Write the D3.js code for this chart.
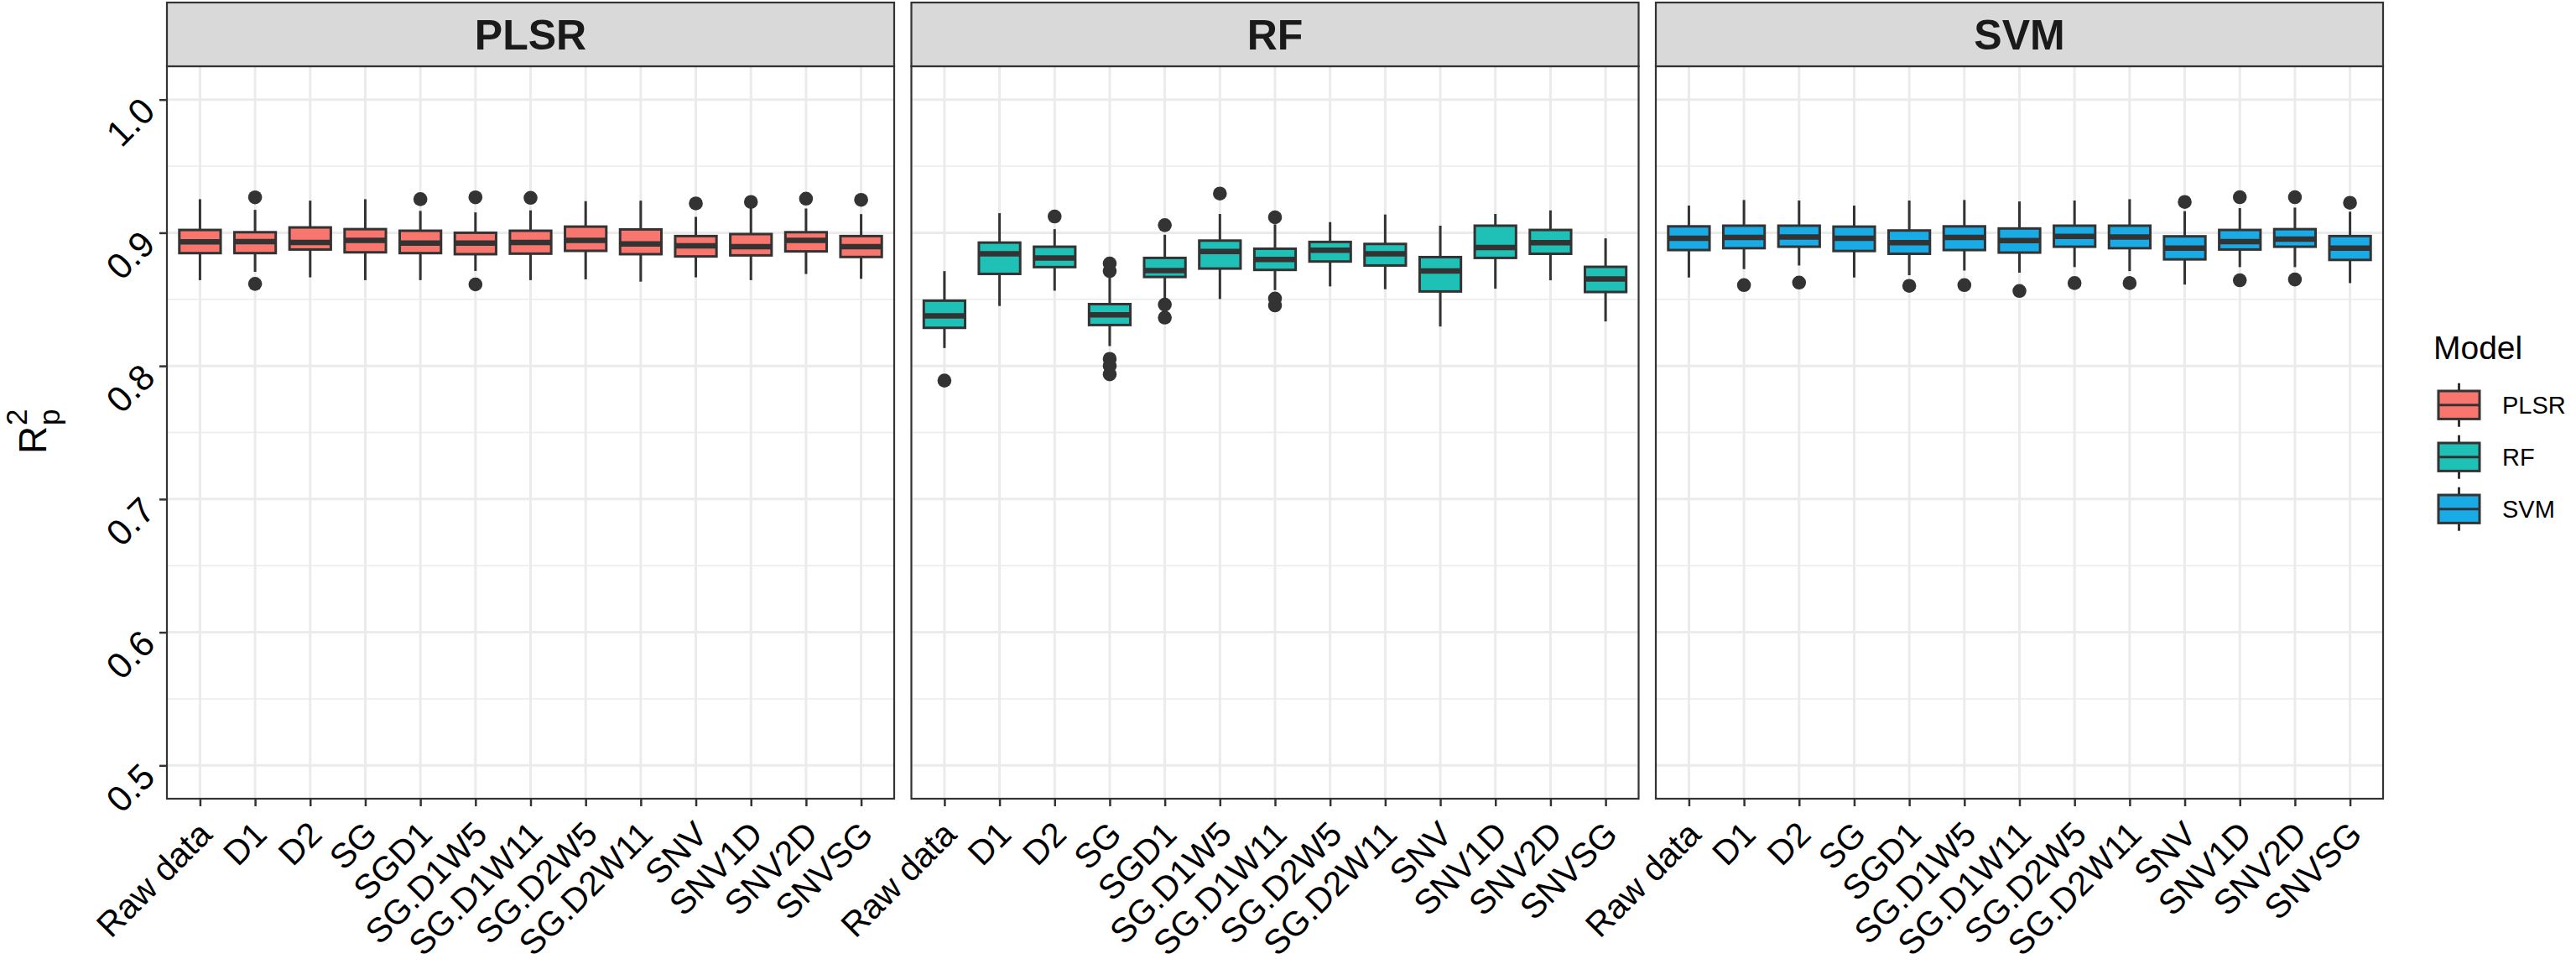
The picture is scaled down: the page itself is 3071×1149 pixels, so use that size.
<!DOCTYPE html>
<html>
<head>
<meta charset="utf-8">
<script src="https://cdn.jsdelivr.net/npm/d3@7"></script>
<style>
  body { margin: 0; background: #fff; }
  svg { display: block; font-family: "Liberation Sans", Arial, sans-serif; }
</style>
</head>
<body>
<svg id="chart"></svg>
<script>
// categories and facets
const methods = ["Raw data", "D1", "D2", "SG", "SGD1", "SG.D1W5", "SG.D1W11",
  "SG.D2W5", "SG.D2W11", "SNV", "SNV1D", "SNV2D", "SNVSG"];
const models = ["PLSR", "RF", "SVM"];
const modelColors = ["#F8766D", "#1FC0B6", "#18ABE6"];
const yTicks = [0.5, 0.6, 0.7, 0.8, 0.9, 1.0];

// box stats per method: [lower whisker, q1, median, q3, upper whisker]
const plsrStats = [
  [0.8644, 0.8847, 0.8931, 0.9021, 0.9252],
  [0.8706, 0.8847, 0.8933, 0.9004, 0.9172],
  [0.8665, 0.8874, 0.8927, 0.9040, 0.9241],
  [0.8644, 0.8853, 0.8943, 0.9027, 0.9252],
  [0.8644, 0.8847, 0.8922, 0.9015, 0.9164],
  [0.8713, 0.8839, 0.8922, 0.9000, 0.9153],
  [0.8644, 0.8843, 0.8927, 0.9015, 0.9168],
  [0.8650, 0.8864, 0.8943, 0.9046, 0.9237],
  [0.8633, 0.8839, 0.8916, 0.9025, 0.9241],
  [0.8665, 0.8822, 0.8901, 0.8975, 0.9119],
  [0.8644, 0.8830, 0.8895, 0.8990, 0.9189],
  [0.8690, 0.8860, 0.8943, 0.9004, 0.9182],
  [0.8654, 0.8818, 0.8895, 0.8975, 0.9140]
];
const plsrOutliers = [
  [], [0.9266, 0.8616], [], [], [0.9252], [0.9266, 0.8612], [0.9262],
  [], [], [0.9220], [0.9231], [0.9256], [0.9247]
];

const rfStats = [
  [0.8134, 0.8286, 0.8376, 0.8490, 0.8712],
  [0.8450, 0.8691, 0.8842, 0.8926, 0.9147],
  [0.8565, 0.8742, 0.8811, 0.8895, 0.9027],
  [0.8149, 0.8307, 0.8384, 0.8464, 0.8662],
  [0.8510, 0.8668, 0.8716, 0.8811, 0.8985],
  [0.8502, 0.8731, 0.8859, 0.8941, 0.9141],
  [0.8569, 0.8721, 0.8800, 0.8880, 0.9063],
  [0.8597, 0.8784, 0.8868, 0.8931, 0.9080],
  [0.8576, 0.8754, 0.8842, 0.8916, 0.9137],
  [0.8296, 0.8559, 0.8712, 0.8817, 0.9053],
  [0.8580, 0.8811, 0.8889, 0.9053, 0.9141],
  [0.8643, 0.8842, 0.8926, 0.9021, 0.9168],
  [0.8334, 0.8555, 0.8653, 0.8744, 0.8958]
];
const rfOutliers = [
  [0.7890], [], [0.9122], [0.8769, 0.8712, 0.8053, 0.8000, 0.7937],
  [0.9057, 0.8460, 0.8363], [0.9294], [0.9116, 0.8506, 0.8454],
  [], [], [], [], [], []
];

const svmStats = [
  [0.8664, 0.8870, 0.8958, 0.9048, 0.9204],
  [0.8727, 0.8884, 0.8964, 0.9053, 0.9246],
  [0.8754, 0.8895, 0.8968, 0.9053, 0.9242],
  [0.8664, 0.8863, 0.8958, 0.9046, 0.9204],
  [0.8681, 0.8842, 0.8926, 0.9017, 0.9242],
  [0.8716, 0.8870, 0.8964, 0.9048, 0.9246],
  [0.8700, 0.8851, 0.8941, 0.9032, 0.9235],
  [0.8742, 0.8895, 0.8973, 0.9053, 0.9242],
  [0.8712, 0.8884, 0.8968, 0.9053, 0.9252],
  [0.8611, 0.8800, 0.8884, 0.8973, 0.9162],
  [0.8742, 0.8874, 0.8933, 0.9021, 0.9185],
  [0.8742, 0.8895, 0.8952, 0.9027, 0.9189],
  [0.8622, 0.8796, 0.8884, 0.8975, 0.9158]
];
const svmOutliers = [
  [], [0.8607], [0.8626], [], [0.8601], [0.8607], [0.8563],
  [0.8622], [0.8622], [0.9231], [0.9267, 0.8643], [0.9267, 0.8649], [0.9225]
];

const allStats = [plsrStats, rfStats, svmStats];
const allOutliers = [plsrOutliers, rfOutliers, svmOutliers];

const W = 3071, H = 1149;
const panelTop = 79, panelBottom = 952, stripTop = 3;
const panelLefts = [199, 1086.5, 1974];
const panelW = 867;
const dark = "#333333";

const svg = d3.select("#chart").attr("width", W).attr("height", H);
svg.append("rect").attr("width", W).attr("height", H).attr("fill", "#fff");

const y = d3.scaleLinear().domain([0.475, 1.025]).range([panelBottom, panelTop]);
const minorTicks = d3.range(0.55, 1.0, 0.1);

models.forEach((m, i) => {
  const left = panelLefts[i];
  const x = d3.scalePoint().domain(methods).range([left, left + panelW]).padding(0.6);
  const bw = x.step() * 0.75;
  const g = svg.append("g");

  // grid
  g.selectAll(".minor").data(minorTicks).enter().append("line")
    .attr("x1", left).attr("x2", left + panelW)
    .attr("y1", d => y(d)).attr("y2", d => y(d))
    .attr("stroke", "#EBEBEB").attr("stroke-width", 1.6);
  g.selectAll(".major").data(yTicks).enter().append("line")
    .attr("x1", left).attr("x2", left + panelW)
    .attr("y1", d => y(d)).attr("y2", d => y(d))
    .attr("stroke", "#EBEBEB").attr("stroke-width", 3);
  g.selectAll(".vmajor").data(methods).enter().append("line")
    .attr("x1", d => x(d)).attr("x2", d => x(d))
    .attr("y1", panelTop).attr("y2", panelBottom)
    .attr("stroke", "#EBEBEB").attr("stroke-width", 3);

  // boxes
  const stats = allStats[i];
  const outs = allOutliers[i];
  methods.forEach((meth, j) => {
    const [lo, q1, med, q3, hi] = stats[j];
    const cx = x(meth);
    g.append("line").attr("x1", cx).attr("x2", cx)
      .attr("y1", y(hi)).attr("y2", y(q3))
      .attr("stroke", dark).attr("stroke-width", 3);
    g.append("line").attr("x1", cx).attr("x2", cx)
      .attr("y1", y(q1)).attr("y2", y(lo))
      .attr("stroke", dark).attr("stroke-width", 3);
    g.append("rect")
      .attr("x", cx - bw / 2).attr("width", bw)
      .attr("y", y(q3)).attr("height", y(q1) - y(q3))
      .attr("fill", modelColors[i]).attr("stroke", dark).attr("stroke-width", 3);
    g.append("line").attr("x1", cx - bw / 2).attr("x2", cx + bw / 2)
      .attr("y1", y(med)).attr("y2", y(med))
      .attr("stroke", dark).attr("stroke-width", 6.5);
    outs[j].forEach(v => {
      g.append("circle").attr("cx", cx).attr("cy", y(v)).attr("r", 8.3).attr("fill", dark);
    });
  });

  // panel border
  g.append("rect").attr("x", left).attr("y", panelTop)
    .attr("width", panelW).attr("height", panelBottom - panelTop)
    .attr("fill", "none").attr("stroke", dark).attr("stroke-width", 2.2);

  // strip
  g.append("rect").attr("x", left).attr("y", stripTop)
    .attr("width", panelW).attr("height", panelTop - stripTop)
    .attr("fill", "#D9D9D9").attr("stroke", dark).attr("stroke-width", 2.2);
  g.append("text").attr("x", left + panelW / 2).attr("y", 59)
    .attr("text-anchor", "middle").attr("font-weight", "bold")
    .attr("font-size", 50).attr("fill", "#1A1A1A").text(m);

  // x axis
  const xa = g.append("g").attr("transform", `translate(0,${panelBottom})`)
    .call(d3.axisBottom(x).tickSize(9).tickSizeOuter(0));
  xa.select(".domain").remove();
  xa.selectAll(".tick line").attr("stroke", dark).attr("stroke-width", 2.5);
  xa.selectAll(".tick text")
    .attr("font-size", 41).attr("fill", "#000")
    .attr("text-anchor", "end").attr("dy", null).attr("y", null)
    .attr("dominant-baseline", "central")
    .attr("transform", "translate(6,35) rotate(-45)");
});

// y axis on first panel
const ya = svg.append("g").attr("transform", `translate(${panelLefts[0]},0)`)
  .call(d3.axisLeft(y).tickValues(yTicks).tickFormat(d3.format(".1f")).tickSize(9).tickSizeOuter(0));
ya.select(".domain").remove();
ya.selectAll(".tick line").attr("stroke", dark).attr("stroke-width", 2.5);
ya.selectAll(".tick text")
  .attr("font-size", 43).attr("fill", "#000")
  .attr("x", null).attr("dy", null)
  .attr("text-anchor", "end").attr("dominant-baseline", "central")
  .attr("transform", "translate(-22.5,5) rotate(-45)");

// y title R^2_p
const yt = svg.append("g").attr("transform", "translate(55,516) rotate(-90)");
yt.append("text").attr("x", -25).attr("y", 0).attr("font-size", 46).attr("fill", "#000").text("R");
yt.append("text").attr("x", 9).attr("y", -22.7).attr("font-size", 35).attr("fill", "#000").text("2");
yt.append("text").attr("x", 9).attr("y", 15.5).attr("font-size", 35).attr("fill", "#000").text("p");

// legend
const lg = svg.append("g");
lg.append("text").attr("x", 2901).attr("y", 428).attr("font-size", 39).attr("fill", "#000").text("Model");
models.forEach((m, i) => {
  const cy = 482.7 + i * 62;
  const cx = 2931.5;
  lg.append("line").attr("x1", cx).attr("x2", cx).attr("y1", cy - 26).attr("y2", cy + 26)
    .attr("stroke", dark).attr("stroke-width", 3);
  lg.append("rect").attr("x", cx - 24.5).attr("width", 49).attr("y", cy - 16.7).attr("height", 33.4)
    .attr("fill", modelColors[i]).attr("stroke", dark).attr("stroke-width", 3);
  lg.append("line").attr("x1", cx - 24.5).attr("x2", cx + 24.5).attr("y1", cy).attr("y2", cy)
    .attr("stroke", dark).attr("stroke-width", 3);
  lg.append("text").attr("x", 2983).attr("y", cy + 10.5).attr("font-size", 29).attr("fill", "#000").text(m);
});
</script>
</body>
</html>
